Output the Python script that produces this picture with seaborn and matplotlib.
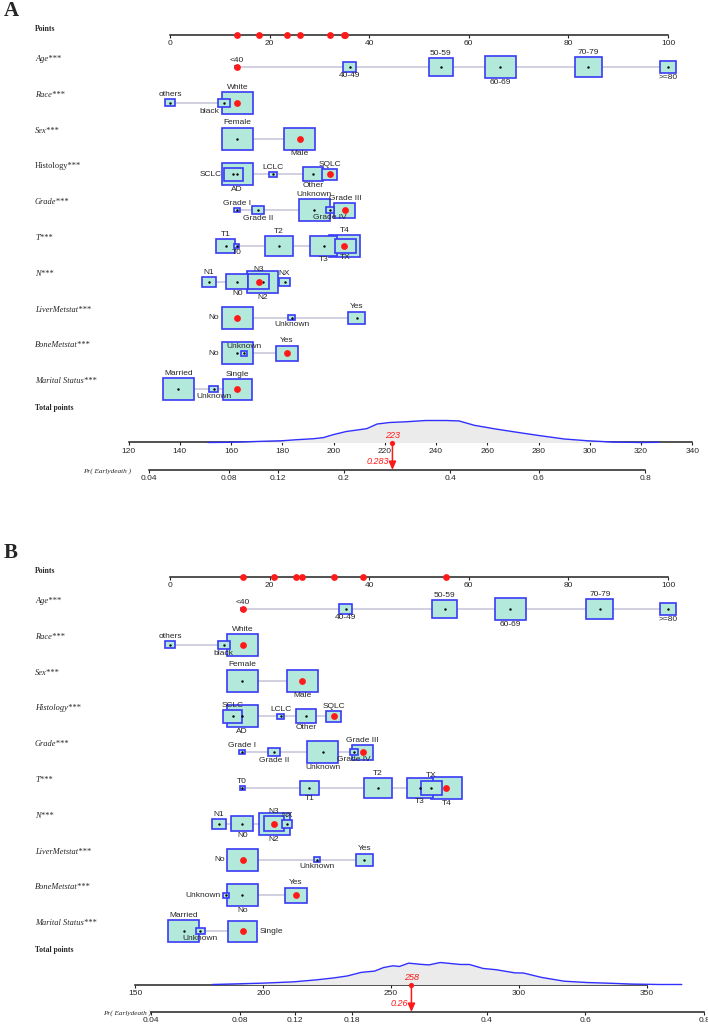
import numpy as np
import pandas as pd
import seaborn as sns
import matplotlib.pyplot as plt
from matplotlib.patches import Rectangle

# ---------------- data ----------------
variables = ["Age", "Race", "Sex", "Histology", "Grade", "T", "N",
             "LiverMetstat", "BoneMetstat", "Marital Status"]

age_levels = ["<40", "40-49", "50-59", "60-69", "70-79", ">=80"]
race_levels = ["others", "black", "White"]
sex_levels = ["Female", "Male"]
hist_levels = ["SCLC", "AD", "LCLC", "Other", "SQLC"]
grade_levels = ["Grade I", "Grade II", "Unknown", "Grade IV", "Grade III"]
t_levels = ["T0", "T1", "T2", "T3", "T4", "TX"]
n_levels = ["N0", "N1", "N2", "N3", "NX"]
liver_levels = ["No", "Unknown", "Yes"]
bone_levels = ["No", "Unknown", "Yes"]
marital_levels = ["Married", "Unknown", "Single"]

# relative box size (share of patients in each level)
age_size = [0.12, 0.42, 0.80, 1.00, 0.87, 0.52]
race_size = [0.32, 0.39, 1.00]
sex_size = [1.00, 1.00]
hist_size = [0.60, 1.00, 0.24, 0.63, 0.48]
grade_size = [0.20, 0.39, 1.00, 0.26, 0.68]
t_size = [0.17, 0.60, 0.90, 0.87, 1.00, 0.68]
n_size = [0.70, 0.45, 1.00, 0.67, 0.34]
liver_size = [1.00, 0.20, 0.54]
bone_size = [1.00, 0.20, 0.71]
marital_size = [1.00, 0.29, 0.94]

# points of each level, model A
age_pts_a = [13.5, 36.1, 54.4, 66.3, 84.0, 100.0]
race_pts_a = [0.0, 10.8, 13.5]
sex_pts_a = [13.5, 26.1]
hist_pts_a = [12.7, 13.5, 20.7, 28.7, 32.1]
grade_pts_a = [13.4, 17.6, 29.0, 32.1, 35.1]
t_pts_a = [13.4, 11.2, 21.9, 30.9, 35.0, 35.2]
n_pts_a = [13.5, 7.8, 18.6, 17.8, 23.0]
liver_pts_a = [13.5, 24.4, 37.5]
bone_pts_a = [13.5, 14.9, 23.4]
marital_pts_a = [1.7, 8.8, 13.5]

# points of each level, model B
age_pts_b = [14.6, 35.3, 55.2, 68.3, 86.3, 100.0]
race_pts_b = [0.0, 10.8, 14.6]
sex_pts_b = [14.5, 26.6]
hist_pts_b = [12.6, 14.5, 22.2, 27.3, 32.9]
grade_pts_b = [14.5, 20.9, 30.7, 36.9, 38.7]
t_pts_b = [14.5, 28.0, 41.7, 50.2, 55.5, 52.5]
n_pts_b = [14.5, 9.8, 20.9, 20.9, 23.5]
liver_pts_b = [14.6, 29.5, 39.0]
bone_pts_b = [14.5, 11.2, 25.3]
marital_pts_b = [2.8, 6.1, 14.6]

# the patient marked in red
patient = ["<40", "White", "Male", "SQLC", "Grade III", "T4", "N3", "No", "Yes", "Single"]

total_a, prob_a = 223, 0.283
total_b, prob_b = 258, 0.26
coef_a = (-6.192, 0.02356)   # logit(p) = b0 + b1 * total points
coef_b = (-6.47, 0.02109)

tot_ticks_a = [120, 140, 160, 180, 200, 220, 240, 260, 280, 300, 320, 340]
tot_ticks_b = [150, 200, 250, 300, 350]
prob_ticks_a = [0.04, 0.08, 0.12, 0.2, 0.4, 0.6, 0.8]
prob_ticks_b = [0.04, 0.08, 0.12, 0.18, 0.4, 0.6, 0.8]

# density of total points (relative height)
dens_x_a = [151, 160, 171, 180, 186, 192, 196, 200, 205, 210, 213, 217, 222, 228,
            236, 244, 249, 255, 264, 273, 280, 290, 299, 309, 320, 327]
dens_y_a = [0, 0.01, 0.05, 0.08, 0.13, 0.17, 0.22, 0.36, 0.5, 0.58, 0.63, 0.84, 0.91, 0.94,
            1.0, 1.0, 0.98, 0.78, 0.6, 0.44, 0.32, 0.16, 0.08, 0.02, 0.0, 0.01]
dens_x_b = [180, 199.5, 211.8, 220.7, 227.7, 233, 238.3, 243.6, 247.1, 250.7, 253.3, 256.9,
            261.3, 264.8, 269.3, 273.7, 277.2, 280.7, 286, 291.3, 298.4, 301.9, 309, 317.8,
            326.7, 337.3, 344.4, 354.9, 363.8]
dens_y_b = [0, 0.06, 0.12, 0.21, 0.30, 0.39, 0.55, 0.61, 0.77, 0.85, 0.82, 0.97,
            0.92, 0.89, 1.0, 0.95, 0.91, 0.91, 0.73, 0.67, 0.53, 0.52, 0.32, 0.15,
            0.09, 0.05, 0.02, 0, 0]

levels = [age_levels, race_levels, sex_levels, hist_levels, grade_levels,
          t_levels, n_levels, liver_levels, bone_levels, marital_levels]
sizes = [age_size, race_size, sex_size, hist_size, grade_size,
         t_size, n_size, liver_size, bone_size, marital_size]
pts_a = [age_pts_a, race_pts_a, sex_pts_a, hist_pts_a, grade_pts_a,
         t_pts_a, n_pts_a, liver_pts_a, bone_pts_a, marital_pts_a]
pts_b = [age_pts_b, race_pts_b, sex_pts_b, hist_pts_b, grade_pts_b,
         t_pts_b, n_pts_b, liver_pts_b, bone_pts_b, marital_pts_b]

# label side of each level: a=above, b=below, B=below-left, l=left, r=right
sides_a = ["ababab", "aBa", "ab", "lbaba", "ababa", "baabab", "babaa", "lba", "laa", "aba"]
sides_b = ["ababab", "aba", "ab", "ababa", "abbba", "ababba", "babaa", "lba", "bla", "abr"]

# ---------------- layout ----------------
W, H = 708, 1025
PX0, K = 170, 4.98          # pixel of 0 points, pixels per point
BOX_W, BOX_H = 31, 22       # full box size in px
ROW0, ROW_STEP = 67, 35.8

sns.set_style("white")
plt.rcParams['font.family'] = ['Liberation Sans Narrow', 'Liberation Sans', 'DejaVu Sans']
SERIF = ['Liberation Serif', 'DejaVu Serif']
FILL = "#b3e9da"
EDGE = "#3a3af5"
RED = "#ff1a1a"

fig = plt.figure(figsize=(W / 100, H / 100), dpi=100)


def scale_axes(y_px, xlim, bounds, ticks, labels):
    a = fig.add_axes([0, 1 - y_px / H, 1, 0.0002])
    a.set_facecolor('none')
    a.set_xlim(*xlim)
    a.set_yticks([])
    for s in ['top', 'left', 'right']:
        a.spines[s].set_visible(False)
    a.spines['bottom'].set_bounds(*bounds)
    a.spines['bottom'].set_color('#222222')
    a.spines['bottom'].set_linewidth(1.1)
    a.set_xticks(ticks)
    a.set_xticklabels(labels)
    a.tick_params(axis='x', bottom=True, direction='out', length=2.5, width=0.8,
                  pad=1.2, labelsize=6, color='#222222')
    return a


def overlay():
    a = fig.add_axes([0, 0, 1, 1])
    a.set_facecolor('none')
    a.axis('off')
    return a


def logit(p):
    return np.log(p / (1 - p))


def fmt(v):
    return f"{v:g}"


def draw_panel(tag, dy, pts, sides, total, prob, coef, tot0, tot_px, tot_k, tot_end,
               tot_ticks, prob_ticks, dens_x, dens_y, hist_upright, pr_right):
    axis_y = dy + 34.5
    tot_y = dy + 442.5
    prob_y = dy + 470

    # the three scales are drawn as real axes
    xlim_pts = (-PX0 / K, (W - PX0) / K)
    xlim_tot = (tot0 - tot_px / tot_k, tot0 + (W - tot_px) / tot_k)
    scale_axes(axis_y, xlim_pts, (0, 100), range(0, 101, 20), [str(v) for v in range(0, 101, 20)])
    scale_axes(tot_y, xlim_tot, (tot_ticks[0], tot_end), tot_ticks, [str(v) for v in tot_ticks])
    b0, b1 = coef
    ppos = [(logit(p) - b0) / b1 for p in prob_ticks]
    scale_axes(prob_y, xlim_tot, (ppos[0], ppos[-1]), ppos, [fmt(p) for p in prob_ticks])

    ax = overlay()
    axb = overlay()

    def px(x):
        return (x - PX0) / K

    ax.text(px(4), dy + 11, tag, fontsize=15, fontweight='bold', family=SERIF, va='center')
    ax.text(px(35), dy + 29, "Points", fontsize=5.5, fontweight='bold', family=SERIF, va='center')
    ax.text(px(35), dy + 408, "Total points", fontsize=5.5, fontweight='bold', family=SERIF,
            va='center')

    rows = []
    marks = []
    for i, var in enumerate(variables):
        y = dy + ROW0 + ROW_STEP * i
        style = 'normal' if (var == "Histology" and hist_upright) else 'italic'
        ax.text(px(35), y - 8, var + "***", fontsize=6, style=style, family=SERIF, va='center')
        ax.plot([min(pts[i]), max(pts[i])], [y, y], color="#c4c4d8", lw=1.1, zorder=1)
        order = np.argsort(sizes[i])[::-1]
        for z, j in enumerate(order):
            s = sizes[i][j]
            w = BOX_W * s / K
            h = BOX_H * s
            ax.add_patch(Rectangle((pts[i][j] - w / 2, y - h / 2), w, h, facecolor=FILL,
                                   edgecolor=EDGE, lw=1.2, zorder=2 + z * 0.1))
        for j, lev in enumerate(levels[i]):
            x = pts[i][j]
            s = sizes[i][j]
            hw = BOX_W * s / K / 2
            hh = BOX_H * s / 2
            side = sides[i][j]
            kw = dict(fontsize=6, zorder=6)
            if side == 'a':
                ax.text(x, y - hh - 1.2, lev, ha='center', va='bottom', **kw)
            elif side == 'b':
                ax.text(x, y + hh + 0.8, lev, ha='center', va='top', **kw)
            elif side == 'B':
                ax.text(x - hw + 0.4, y + hh + 0.8, lev, ha='right', va='top', **kw)
            elif side == 'l':
                ax.text(x - hw - 0.5, y, lev, ha='right', va='center', **kw)
            else:
                ax.text(x + hw + 0.5, y, lev, ha='left', va='center', **kw)
            rows.append({"pts": x, "y": y})
            if lev == patient[i]:
                marks.append({"pts": x, "y": y})

    df_rows = pd.DataFrame(rows)
    df_marks = pd.DataFrame(marks)
    sns.scatterplot(data=df_rows, x="pts", y="y", color="black", s=3, linewidth=0,
                    ax=ax, zorder=8, legend=False)
    sns.scatterplot(data=df_marks, x="pts", y="y", color=RED, s=24, linewidth=0,
                    ax=ax, zorder=9, legend=False)
    df_axis = pd.DataFrame({"pts": sorted(set(df_marks["pts"])), "y": axis_y})
    sns.scatterplot(data=df_axis, x="pts", y="y", color=RED, s=24, linewidth=0,
                    ax=ax, zorder=9, legend=False)
    ax.set_xlim(*xlim_pts)
    ax.set_ylim(H, 0)

    # density of total points
    dens = pd.DataFrame({"x": dens_x, "y": [tot_y - 22 * v for v in dens_y]})
    axb.fill_between(dens["x"], tot_y, dens["y"], color="#ebebeb", lw=0, zorder=1)
    sns.lineplot(data=dens, x="x", y="y", color="#3030ff", lw=1.0, ax=axb, zorder=2)

    # patient total and probability
    sns.scatterplot(x=[total], y=[tot_y], color=RED, s=14, linewidth=0, ax=axb, zorder=5,
                    legend=False)
    axb.annotate("", xy=(total, prob_y), xytext=(total, tot_y),
                 arrowprops=dict(arrowstyle='-|>,head_length=0.5,head_width=0.22',
                                 color=RED, lw=1.1, shrinkA=0, shrinkB=0), zorder=5)
    axb.text(total, tot_y - 2.5, str(total), color=RED, fontsize=6.5, style='italic',
             ha='center', va='bottom')
    axb.text(total - 1.2, prob_y - 3.5, fmt(prob), color=RED, fontsize=6.5, style='italic',
             ha='right', va='bottom')
    axb.text(tot0 + (pr_right - tot_px) / tot_k, prob_y + 1, "Pr( Earlydeath )", fontsize=5.2,
             style='italic', family=SERIF, ha='right', va='center')
    axb.set_xlim(*xlim_tot)
    axb.set_ylim(H, 0)


draw_panel("A", 0, pts_a, sides_a, total_a, prob_a, coef_a, 120, 128.5, 2.5625, 340,
           tot_ticks_a, prob_ticks_a, dens_x_a, dens_y_a, True, 131)
draw_panel("B", 542, pts_b, sides_b, total_b, prob_b, coef_b, 150, 135.5, 2.555, 350,
           tot_ticks_b, prob_ticks_b, dens_x_b, dens_y_b, False, 151)

fig.savefig("out.png", dpi=100)
